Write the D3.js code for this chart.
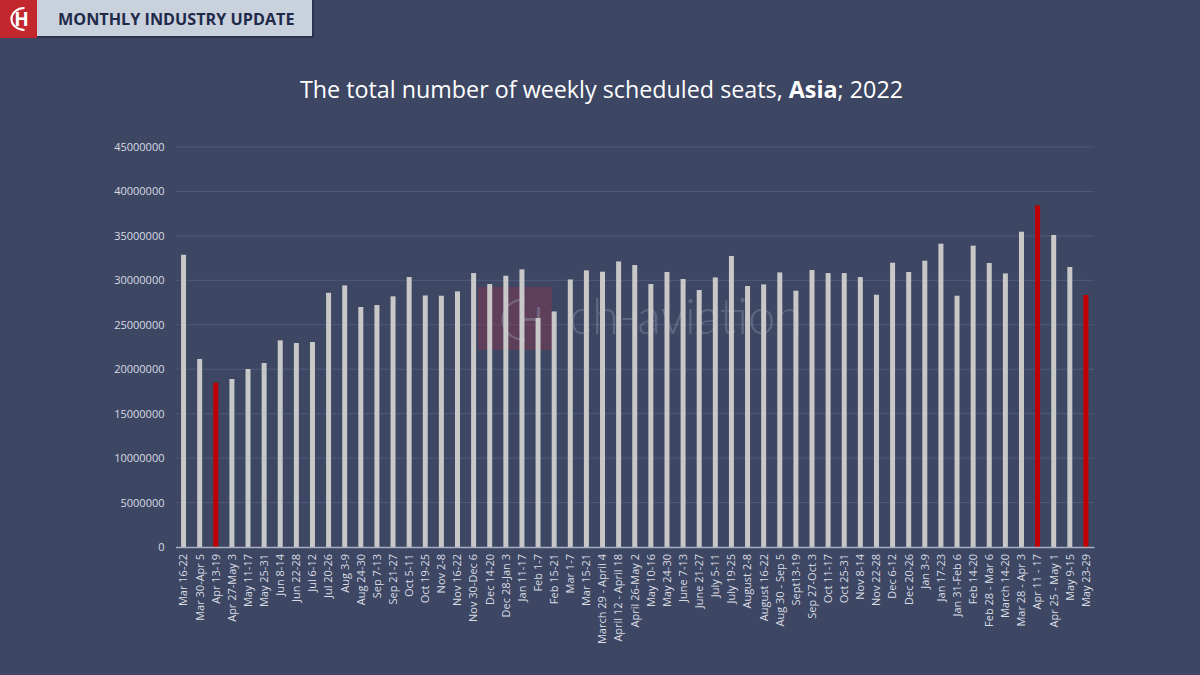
<!DOCTYPE html>
<html><head><meta charset="utf-8">
<script src="https://cdn.jsdelivr.net/npm/d3@7"></script>
<style>
html,body{margin:0;padding:0;background:#3d4663;}
svg{display:block;}
</style></head>
<body>
<svg id="chart" width="1200" height="675"></svg>
<script>
const categories = ["Mar 16-22","Mar 30-Apr 5","Apr 13-19","Apr 27-May 3","May 11-17","May 25-31","Jun 8-14","Jun 22-28","Jul 6-12","Jul 20-26","Aug 3-9","Aug 24-30","Sep 7-13","Sep 21-27","Oct 5-11","Oct 19-25","Nov 2-8","Nov 16-22","Nov 30-Dec 6","Dec 14-20","Dec 28-Jan 3","Jan 11-17","Feb 1-7","Feb 15-21","Mar 1-7","Mar 15-21","March 29 - April 4","April 12 - April 18","April 26-May 2","May 10-16","May 24-30","June 7-13","June 21-27","July 5-11","July 19-25","August 2-8","August 16-22","Aug 30 - Sep 5","Sept13-19","Sep 27-Oct 3","Oct 11-17","Oct 25-31","Nov 8-14","Nov 22-28","Dec 6-12","Dec 20-26","Jan 3-9","Jan 17-23","Jan 31-Feb 6","Feb 14-20","Feb 28 - Mar 6","March 14-20","Mar 28 - Apr 3","Apr 11 - 17","Apr 25 - May 1","May 9-15","May 23-29"];
const seats = [32880000,21150000,18480000,18900000,20020000,20700000,23250000,22950000,23060000,28600000,29430000,27000000,27220000,28200000,30370000,28300000,28270000,28760000,30820000,29590000,30520000,31230000,25760000,26500000,30100000,31120000,30970000,32130000,31720000,29590000,30940000,30150000,28910000,30330000,32740000,29360000,29540000,30890000,28830000,31160000,30820000,30820000,30370000,28380000,31980000,30940000,32210000,34120000,28270000,33900000,31950000,30780000,35470000,38430000,35100000,31500000,28350000];
const highlighted = ["Apr 13-19","Apr 11 - 17","May 23-29"];
const yTicks = [0,5000000,10000000,15000000,20000000,25000000,30000000,35000000,40000000,45000000];

const svg = d3.select("#chart");
const W = 1200, H = 675;
const m = {left:175.5, right:1094, top:147, bottom:547};

svg.append("rect").attr("width",W).attr("height",H).attr("fill","#3d4663");

// header
svg.append("rect").attr("x",37).attr("y",0).attr("width",277).attr("height",38).attr("fill","#2b3350");
svg.append("rect").attr("x",37).attr("y",0).attr("width",275).attr("height",36).attr("fill","#c9d1dc");
svg.append("rect").attr("x",0).attr("y",0).attr("width",37).attr("height",38).attr("fill","#c1272d");
const logo = svg.append("g").attr("transform","translate(18.5,19)");
logo.append("path").attr("d","M6,-11 A13,11 0 1 0 6,11").attr("fill","none").attr("stroke","#fff").attr("stroke-width",2.2);
logo.append("text").attr("x",3).attr("y",7).attr("text-anchor","middle").attr("font-family","Open Sans, sans-serif").attr("font-weight",700).attr("font-size",19).attr("fill","#fff").text("H");
svg.append("text").attr("x",58).attr("y",25).attr("font-family","Open Sans, sans-serif").attr("font-weight",700).attr("font-size",16.2).attr("fill","#1f2a4a").text("MONTHLY INDUSTRY UPDATE");

// title
const title = svg.append("text").attr("x",601.5).attr("y",98).attr("text-anchor","middle")
  .attr("font-family","Open Sans, sans-serif").attr("font-size",23.3).attr("fill","#ffffff");
title.append("tspan").text("The total number of weekly scheduled seats, ");
title.append("tspan").attr("font-weight",700).text("Asia");
title.append("tspan").text("; 2022");

const x = d3.scaleBand().domain(categories).range([m.left,m.right]).paddingInner(0.69).paddingOuter(0.345);
const y = d3.scaleLinear().domain([0,45000000]).range([m.bottom,m.top]);

// grid
svg.append("g").selectAll("line").data(yTicks.filter(d=>d>0)).join("line")
  .attr("x1",m.left).attr("x2",m.right).attr("y1",d=>y(d)).attr("y2",d=>y(d))
  .attr("stroke","#505a7a").attr("stroke-width",1);

// watermark
const wm = svg.append("g");
wm.append("rect").attr("x",478).attr("y",287).attr("width",74).attr("height",63).attr("fill","#a0304a").attr("opacity",0.35);
wm.append("text").attr("x",569).attr("y",334).attr("font-family","Lato, sans-serif").attr("font-weight",300).attr("font-size",49).attr("fill","#9aa2b8").attr("opacity",0.35).text("ch-aviation");
wm.append("path").attr("d","M525,299 A22,20 0 1 0 525,340").attr("fill","none").attr("stroke","#9aa2b8").attr("stroke-width",2).attr("opacity",0.4);
wm.append("text").attr("x",517).attr("y",333).attr("font-family","Open Sans, sans-serif").attr("font-size",36).attr("fill","#9aa2b8").attr("opacity",0.4).text("H");

// bars
svg.append("g").selectAll("rect").data(categories).join("rect")
  .attr("x",d=>x(d)).attr("width",x.bandwidth())
  .attr("y",(d,i)=>y(seats[i])).attr("height",(d,i)=>y(0)-y(seats[i]))
  .attr("fill",d=>highlighted.includes(d)?"#c00000":"#c8c8c8");

// y axis
const yAxis = d3.axisLeft(y).tickValues(yTicks).tickSize(0).tickPadding(11).tickFormat(d3.format("d"));
const ya = svg.append("g").attr("transform",`translate(${m.left},0)`).call(yAxis);
ya.select(".domain").remove();
ya.selectAll("text").attr("font-family","Open Sans, sans-serif").attr("font-size",11).attr("fill","#d9dce4");

// x axis
const xAxis = d3.axisBottom(x).tickSize(0).tickPadding(0);
const xa = svg.append("g").attr("transform",`translate(0,${m.bottom})`).call(xAxis);
xa.select(".domain").attr("stroke","#a9aec0").attr("stroke-width",1.5);
xa.selectAll("text").attr("font-family","Open Sans, sans-serif").attr("font-size",11).attr("fill","#d9dce4")
  .attr("text-anchor","end").attr("transform","translate(0,7) rotate(-90)").attr("dx",0).attr("dy","0.35em").attr("y",0);
</script>
</body></html>
